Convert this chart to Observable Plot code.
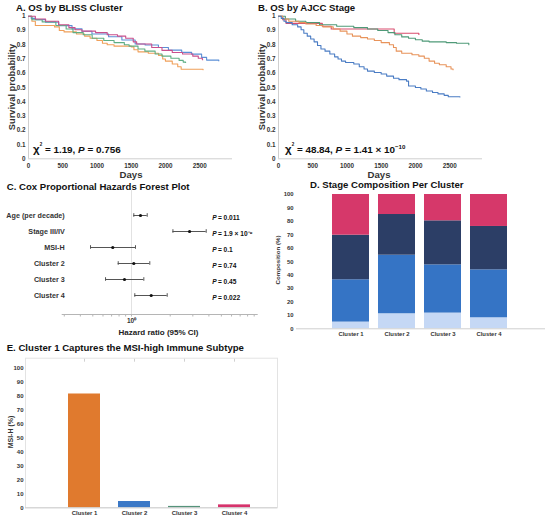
<!DOCTYPE html>
<html>
<head>
<meta charset="utf-8">
<script src="https://cdn.jsdelivr.net/npm/d3@7"></script>
<script src="https://cdn.jsdelivr.net/npm/@observablehq/plot@0.6"></script>
<style>
  html, body { margin: 0; padding: 0; background: #fff; }
  #fig { position: relative; width: 550px; height: 520px; overflow: hidden; font-family: "Liberation Sans", Arial, sans-serif; }
  #fig svg { position: absolute; }
</style>
</head>
<body>
<div id="fig"></div>
<script>
// ---------------- DATA ----------------
const clusters = ["Cluster 1", "Cluster 2", "Cluster 3", "Cluster 4"];
const clusterColorsKM = ["#f0a05a", "#5b8fd6", "#5fae84", "#c94f8c"];
const clusterColorsBar = ["#e07a2e", "#3b78c6", "#55937a", "#d6336c"];

// Panel A: Kaplan-Meier by BLISS cluster, [day, survival]
const kmCluster1 = [[0,1],[50,0.965],[100,0.935],[380,0.925],[450,0.9],[520,0.89],[700,0.875],[820,0.86],[900,0.845],[1000,0.83],[1080,0.81],[1150,0.8],[1250,0.79],[1500,0.785],[1540,0.765],[1600,0.75],[1750,0.74],[1900,0.725],[1960,0.7],[2000,0.685],[2100,0.665],[2180,0.645],[2230,0.628],[2550,0.625]];
const kmCluster2 = [[0,1],[40,0.985],[102,0.976],[248,0.958],[442,0.934],[636,0.911],[782,0.894],[927,0.875],[1170,0.856],[1364,0.833],[1558,0.805],[1704,0.798],[1898,0.781],[2044,0.762],[2238,0.746],[2383,0.734],[2529,0.711],[2602,0.692],[2780,0.687]];
const kmCluster3 = [[0,1],[50,0.975],[200,0.96],[400,0.935],[550,0.91],[650,0.885],[800,0.87],[930,0.845],[1100,0.83],[1250,0.815],[1400,0.8],[1470,0.79],[1600,0.77],[1700,0.755],[1850,0.735],[1950,0.72],[2080,0.705],[2200,0.69],[2260,0.678],[2295,0.675]];
const kmCluster4 = [[0,1],[100,0.98],[250,0.965],[440,0.94],[590,0.92],[680,0.905],[780,0.895],[980,0.885],[1150,0.87],[1300,0.86],[1420,0.845],[1530,0.82],[1580,0.805],[1800,0.78],[1950,0.76],[2100,0.745],[2250,0.735],[2400,0.72],[2480,0.705],[2540,0.695],[2545,0.695]];

// Panel B: Kaplan-Meier by AJCC stage, [day, survival]
const stages = ["Stage I", "Stage II", "Stage III", "Stage IV"];
const stageColorsKM = ["#d94d6e", "#4f9a78", "#e8935a", "#4a7cc4"];
const kmStage1 = [[0,1],[60,0.975],[110,0.95],[640,0.93],[770,0.91],[1690,0.88],[2050,0.872],[2052,0.872]];
const kmStage2 = [[0,1],[100,0.98],[250,0.965],[400,0.955],[600,0.94],[850,0.93],[1100,0.92],[1300,0.91],[1450,0.9],[1600,0.885],[1700,0.87],[1800,0.855],[1900,0.845],[2000,0.835],[2100,0.825],[2200,0.82],[2450,0.815],[2600,0.81],[2780,0.8]];
const kmStage3 = [[0,1],[60,0.98],[150,0.965],[300,0.955],[400,0.945],[550,0.935],[650,0.925],[800,0.91],[900,0.895],[1000,0.875],[1080,0.86],[1200,0.85],[1300,0.84],[1400,0.83],[1500,0.815],[1620,0.8],[1680,0.78],[1720,0.755],[1800,0.74],[1950,0.73],[2050,0.72],[2130,0.705],[2200,0.685],[2280,0.67],[2350,0.66],[2450,0.645],[2520,0.63],[2550,0.625]];
const kmStage4 = [[0,1],[40,0.985],[80,0.965],[110,0.955],[200,0.94],[280,0.925],[330,0.905],[370,0.88],[420,0.86],[470,0.84],[520,0.82],[570,0.795],[620,0.77],[680,0.755],[750,0.735],[820,0.715],[870,0.7],[920,0.685],[980,0.675],[1100,0.665],[1180,0.645],[1250,0.63],[1300,0.615],[1400,0.605],[1500,0.595],[1580,0.58],[1680,0.565],[1760,0.555],[1870,0.545],[1900,0.51],[2000,0.5],[2080,0.49],[2160,0.475],[2250,0.465],[2330,0.455],[2420,0.445],[2480,0.435],[2650,0.433]];

const dayTicks = [0, 500, 1000, 1500, 2000, 2500];
const survTicks = [0, 0.1, 0.2, 0.3, 0.4, 0.5, 0.6, 0.7, 0.8, 0.9, 1];
const chiA = "1.19", pA = ["0.756", null];
const chiB = "48.84", pB = ["1.41 × 10", "−10"];

// Panel C: Cox model
const coxTerms = ["Age (per decade)", "Stage III/IV", "MSI-H", "Cluster 2", "Cluster 3", "Cluster 4"];
const coxHR = [1.175, 2.83, 0.715, 1.042, 0.882, 1.423];
const coxLo = [1.042, 2.10, 0.48, 0.788, 0.628, 1.061];
const coxHi = [1.325, 3.81, 1.074, 1.388, 1.247, 1.895];
const coxP = ["0.011", "1.9 × 10⁻⁹", "0.1", "0.74", "0.45", "0.022"];
const hrTicks = [0.3, 0.4, 0.5, 0.6, 0.7, 0.8, 0.9, 1, 2, 3, 4, 5, 6, 7, 8, 9];

// Panel D: stage composition (%) per cluster
const compStageNames = ["Stage I", "Stage II", "Stage III", "Stage IV"];
const compColors = ["#c5d8f5", "#3574c5", "#2c3e66", "#d6386a"];
const compStageI = [5.0, 11.2, 11.7, 8.2];
const compStageII = [31.5, 43.6, 35.9, 35.7];
const compStageIII = [33.2, 30.3, 32.8, 32.3];
const compStageIV = [30.3, 14.9, 19.6, 23.8];
const pctTicks = [0, 10, 20, 30, 40, 50, 60, 70, 80, 90, 100];

// Panel E: MSI-H (%) per cluster
const msiHigh = [81.4, 4.5, 1.0, 2.1];

// ---------------- BUILD ----------------
const fig = document.getElementById("fig");
const FONT = '"Liberation Sans", Arial, sans-serif';
const baseStyle = (fs) => ({background: "transparent", fontFamily: FONT, fontWeight: "bold", fontSize: fs + "px", color: "#333", overflow: "visible"});
function place(svg, left, top) { svg.style.left = left + "px"; svg.style.top = top + "px"; fig.appendChild(svg); }
const toRows = (names, series) => names.flatMap((n, i) => series[i].map(([t, s]) => ({group: n, t, s})));
const survFmt = d => d === 0 ? "0" : d === 1 ? "1" : d.toFixed(1);

function kmPlot(rows, names, colors) {
  return Plot.plot({
    width: 245, height: 180,
    marginLeft: 28, marginRight: 13, marginTop: 15.7, marginBottom: 21.7,
    style: baseStyle(6.3),
    x: {domain: [0, 2980]},
    y: {domain: [0, 1]},
    color: {domain: names, range: colors},
    marks: [
      Plot.ruleY([0], {stroke: "#cfcfcf"}),
      Plot.ruleX([0], {stroke: "#cfcfcf"}),
      Plot.axisX({ticks: dayTicks, tickSize: 0, tickPadding: 4.5, label: null, tickFormat: d => String(d)}),
      Plot.axisY({ticks: survTicks, tickSize: 0, tickPadding: 3, label: null, tickFormat: survFmt}),
      Plot.line(rows, {x: "t", y: "s", z: "group", stroke: "group", curve: "step-after", strokeWidth: 1.1})
    ]
  });
}

// Panel A
place(kmPlot(toRows(clusters, [kmCluster1, kmCluster2, kmCluster3, kmCluster4]), clusters, clusterColorsKM), 0, 0);
// Panel B
place(kmPlot(toRows(stages, [kmStage1, kmStage2, kmStage3, kmStage4]), stages, stageColorsKM), 249.5, 0);

// Panel C: forest plot
const coxRows = coxTerms.map((name, i) => ({name, hr: coxHR[i], lo: coxLo[i], hi: coxHi[i], p: coxP[i]}));
const plotC = Plot.plot({
  width: 270, height: 160,
  marginLeft: 61.7, marginRight: 13.3, marginTop: 10, marginBottom: 26,
  style: baseStyle(7.2),
  x: {type: "log", domain: [0.289, 9.5]},
  y: {type: "band", domain: coxTerms, range: [24.95, 125.35], padding: 0},
  marks: [
    Plot.ruleX([1], {stroke: "#e2e2e2"}),
    Plot.frame({anchor: "bottom", stroke: "#b5b5b5"}),
    Plot.axisX({ticks: hrTicks, tickSize: 2.5, tickPadding: 1.5, stroke: "#b5b5b5", fontSize: 6.5, label: null,
                tickFormat: d => d === 1 ? "10⁰" : ""}),
    Plot.axisY({tickSize: 0, tickPadding: 0, dx: 2.5, label: null}),
    Plot.ruleY(coxRows, {y: "name", x1: "lo", x2: "hi", stroke: "#555", strokeWidth: 1}),
    Plot.tickX(coxRows, {x: "lo", y: "name", insetTop: 6.2, insetBottom: 6.2, stroke: "#555"}),
    Plot.tickX(coxRows, {x: "hi", y: "name", insetTop: 6.2, insetBottom: 6.2, stroke: "#555"}),
    Plot.dot(coxRows, {x: "hr", y: "name", r: 1.6, fill: "#111", stroke: null}),
    Plot.text(coxRows, {y: "name", frameAnchor: "right", dx: -45, dy: 2.5, text: () => "P", textAnchor: "start",
                        fontStyle: "italic", fontSize: 6.6, fill: "#111"}),
    Plot.text(coxRows, {y: "name", frameAnchor: "right", dx: -39.3, dy: 2.5, text: d => "= " + d.p, textAnchor: "start",
                        fontSize: 6.6, fill: "#111"})
  ]
});
place(plotC, 0, 180);

// Panel D: stacked composition
const compSeries = [compStageI, compStageII, compStageIII, compStageIV];
const compRows = clusters.flatMap((c, j) => compStageNames.map((s, i) => ({cluster: c, stage: s, pct: compSeries[i][j]})));
const plotD = Plot.plot({
  width: 280, height: 155,
  marginLeft: 26, marginRight: 5, marginTop: 9, marginBottom: 11.7,
  style: baseStyle(5.9),
  x: {domain: clusters, range: [61, 237.7], paddingInner: 0.2, paddingOuter: 0},
  y: {domain: [0, 100]},
  color: {domain: compStageNames, range: compColors},
  marks: [
    Plot.barY(compRows, {x: "cluster", y: "pct", fill: "stage"}),
    Plot.ruleY([0], {stroke: "#cfcfcf"}),
    Plot.axisX({tickSize: 0, tickPadding: 3, label: null}),
    Plot.axisY({ticks: pctTicks, tickSize: 0, tickPadding: 3, label: null})
  ]
});
place(plotD, 270, 185);

// Panel E: MSI-H
const msiRows = clusters.map((c, i) => ({cluster: c, pct: msiHigh[i]}));
const plotE = Plot.plot({
  width: 285, height: 168,
  marginLeft: 25, marginRight: 8, marginTop: 5.7, marginBottom: 12.7,
  style: baseStyle(6),
  x: {domain: clusters, range: [66.7, 251], paddingInner: 0.357, paddingOuter: 0},
  y: {domain: [0, 107]},
  color: {domain: clusters, range: clusterColorsBar},
  marks: [
    Plot.frame({stroke: "#e3e3e3"}),
    Plot.axisX({anchor: "top", tickSize: -3, stroke: "#d0d0d0", tickFormat: () => "", label: null}),
    Plot.barY(msiRows, {x: "cluster", y: "pct", fill: "cluster"}),
    Plot.ruleY([0], {stroke: "#cfcfcf"}),
    Plot.axisX({tickSize: 0, tickPadding: 3, label: null}),
    Plot.axisY({ticks: pctTicks, tickSize: 0, tickPadding: 2, label: null})
  ]
});
place(plotE, 0, 352);

// ---------------- TEXT OVERLAY ----------------
const ov = d3.select(fig).append("svg")
  .attr("width", 550).attr("height", 520)
  .style("left", "0px").style("top", "0px").style("pointer-events", "none")
  .style("font-family", FONT);

function txt(x, y, s, {size = 9.6, weight = "bold", anchor = "start", rotate = 0, fill = "#111"} = {}) {
  return ov.append("text")
    .attr("transform", `translate(${x},${y}) rotate(${rotate})`)
    .attr("text-anchor", anchor).attr("font-size", size).attr("font-weight", weight)
    .attr("fill", fill).text(s);
}
function chi(x, y, chiVal, pVal) {
  const t = ov.append("text").attr("x", x).attr("y", y).attr("font-size", 9.9)
    .attr("font-weight", "bold").attr("fill", "#111");
  t.append("tspan").attr("font-size", 11.5).text("χ");
  t.append("tspan").attr("font-size", 4.5).attr("dy", -7).text("2");
  t.append("tspan").attr("dy", 7).text(" = " + chiVal + ", ");
  t.append("tspan").attr("font-style", "italic").text("P");
  t.append("tspan").text(" = " + pVal[0]);
  if (pVal[1]) {
    t.append("tspan").attr("font-size", 6.2).attr("dy", -4).text(pVal[1]);
  }
}

// Titles
txt(16, 11, "A. OS by BLISS Cluster");
txt(258, 11, "B. OS by AJCC Stage");
txt(6.7, 190, "C. Cox Proportional Hazards Forest Plot");
txt(310, 188.3, "D. Stage Composition Per Cluster");
txt(6.7, 351, "E. Cluster 1 Captures the MSI-high Immune Subtype");

// KM axis labels and statistics
txt(15, 87, "Survival probability", {size: 9.3, anchor: "middle", rotate: -90, fill: "#333"});
txt(264.5, 87, "Survival probability", {size: 9.3, anchor: "middle", rotate: -90, fill: "#333"});
txt(131, 177.5, "Days", {size: 9.6, anchor: "middle", fill: "#333"});
txt(379, 177.5, "Days", {size: 9.6, anchor: "middle", fill: "#333"});
chi(33, 152.5, chiA, pA);
chi(285, 152.5, chiB, pB);

// Forest / bar axis labels
txt(158.5, 334.5, "Hazard ratio (95% CI)", {size: 8, anchor: "middle", fill: "#222"});
txt(279.5, 260, "Composition (%)", {size: 6.2, anchor: "middle", rotate: -90, fill: "#333"});
txt(13, 432, "MSI-H (%)", {size: 7, anchor: "middle", rotate: -90, fill: "#333"});
</script>
</body>
</html>
